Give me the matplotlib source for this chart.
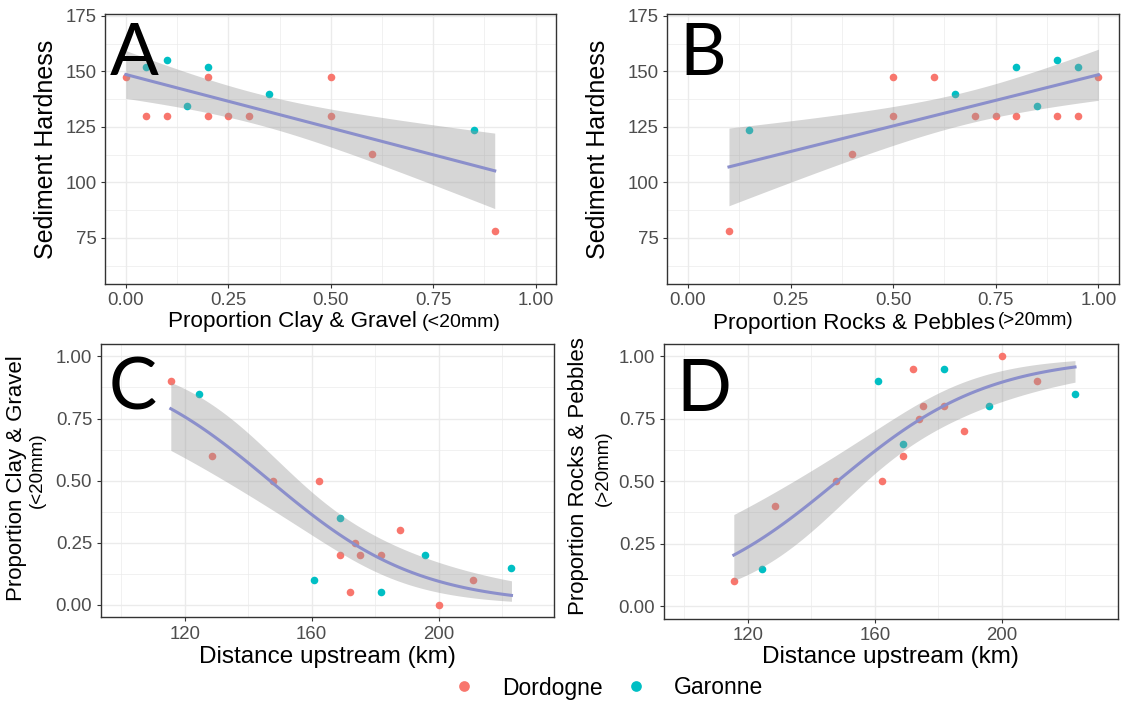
import numpy as np
import matplotlib
matplotlib.use("Agg")
import matplotlib.pyplot as plt
from matplotlib.ticker import MultipleLocator, FormatStrFormatter
from matplotlib.lines import Line2D

plt.rcParams['font.family'] = ['Liberation Sans', 'DejaVu Sans']

W, H = 1140, 701

# A: hardness vs proportion clay & gravel
clay_dor = [0.0, 0.05, 0.1, 0.2, 0.2, 0.25, 0.3, 0.5, 0.5, 0.6, 0.9]
hard_dor_a = [147.5, 130, 130, 147.5, 130, 130, 130, 147.5, 130, 113, 78]
clay_gar = [0.05, 0.1, 0.15, 0.2, 0.35, 0.85]
hard_gar_a = [152, 155, 134.5, 152, 140, 123.5]

# B: hardness vs proportion rocks & pebbles
rocks_dor = [0.1, 0.4, 0.5, 0.5, 0.6, 0.7, 0.75, 0.8, 0.9, 0.95, 1.0]
hard_dor_b = [78, 113, 147.5, 130, 147.5, 130, 130, 130, 130, 130, 147.5]
rocks_gar = [0.15, 0.65, 0.8, 0.85, 0.9, 0.95]
hard_gar_b = [123.5, 140, 152, 134.5, 155, 152]

# C / D: proportions vs distance upstream (km)
dist_dor = [115.6, 128.7, 147.7, 162.3, 168.8, 172.1, 173.8, 175.2, 181.8, 187.9, 200, 210.9]
clay_dor_c = [0.9, 0.6, 0.5, 0.5, 0.2, 0.05, 0.25, 0.2, 0.2, 0.3, 0.0, 0.1]
rocks_dor_d = [0.1, 0.4, 0.5, 0.5, 0.6, 0.95, 0.75, 0.8, 0.8, 0.7, 1.0, 0.9]
dist_gar = [124.6, 160.9, 168.8, 181.8, 195.8, 223.0]
clay_gar_c = [0.85, 0.1, 0.35, 0.05, 0.2, 0.15]
rocks_gar_d = [0.15, 0.9, 0.65, 0.95, 0.8, 0.85]

rivers = ["Dordogne", "Garonne"]
col_dor = "#F8766D"
col_gar = "#00BFC4"
col_line = "#8B8FCB"

T_LM = 2.131   # qt(0.975, 15)
Z_GLM = 1.96


def px(x, y):
    # pixel position -> figure fraction
    return x / W, 1 - y / H


def lm_fit(x, y, n=80):
    x = np.asarray(x, float)
    y = np.asarray(y, float)
    X = np.column_stack([np.ones_like(x), x])
    beta = np.linalg.lstsq(X, y, rcond=None)[0]
    resid = y - X @ beta
    s2 = resid @ resid / (len(x) - 2)
    cov = s2 * np.linalg.inv(X.T @ X)
    xs = np.linspace(x.min(), x.max(), n)
    Xs = np.column_stack([np.ones_like(xs), xs])
    fit = Xs @ beta
    se = np.sqrt(np.einsum('ij,jk,ik->i', Xs, cov, Xs))
    return xs, fit, fit - T_LM * se, fit + T_LM * se


def glm_fit(x, y, n=80):
    # logistic regression (quasibinomial) by IRLS
    x = np.asarray(x, float)
    y = np.asarray(y, float)
    X = np.column_stack([np.ones_like(x), x])
    beta = np.zeros(2)
    for _ in range(100):
        eta = X @ beta
        mu = 1 / (1 + np.exp(-eta))
        w = mu * (1 - mu)
        z = eta + (y - mu) / w
        beta = np.linalg.solve(X.T @ (w[:, None] * X), X.T @ (w * z))
    mu = 1 / (1 + np.exp(-(X @ beta)))
    w = mu * (1 - mu)
    phi = np.sum((y - mu) ** 2 / w) / (len(y) - 2)
    cov = phi * np.linalg.inv(X.T @ (w[:, None] * X))
    xs = np.linspace(x.min(), x.max(), n)
    Xs = np.column_stack([np.ones_like(xs), xs])
    eta = Xs @ beta
    se = np.sqrt(np.einsum('ij,jk,ik->i', Xs, cov, Xs))
    inv = lambda e: 1 / (1 + np.exp(-e))
    return xs, inv(eta), inv(eta - Z_GLM * se), inv(eta + Z_GLM * se)


def style(ax, xlim, ylim, xstep, ystep, xfmt, yfmt):
    ax.set_xlim(xlim)
    ax.set_ylim(ylim)
    ax.xaxis.set_major_locator(MultipleLocator(xstep))
    ax.xaxis.set_minor_locator(MultipleLocator(xstep / 2))
    ax.yaxis.set_major_locator(MultipleLocator(ystep))
    ax.yaxis.set_minor_locator(MultipleLocator(ystep / 2))
    ax.xaxis.set_major_formatter(FormatStrFormatter(xfmt))
    ax.yaxis.set_major_formatter(FormatStrFormatter(yfmt))
    ax.grid(which='major', color='#EBEBEB', lw=1.0)
    ax.grid(which='minor', color='#EBEBEB', lw=0.5)
    ax.set_axisbelow(True)
    ax.tick_params(which='minor', length=0)
    ax.tick_params(which='major', length=2.6, width=0.8, color='#333333',
                   labelcolor='#4D4D4D', labelsize=13.4, pad=3.5)
    for s in ax.spines.values():
        s.set_color('#333333')
        s.set_linewidth(1.0)


def panel(ax, xd, yd, xg, yg, fitter):
    ax.scatter(xd, yd, s=30, color=col_dor, lw=0, zorder=2)
    ax.scatter(xg, yg, s=30, color=col_gar, lw=0, zorder=2)
    xs, fit, lo, hi = fitter(list(xd) + list(xg), list(yd) + list(yg))
    ax.fill_between(xs, lo, hi, color='#999999', alpha=0.4, lw=0, zorder=3)
    ax.plot(xs, fit, color=col_line, lw=2.2, zorder=4)


fig = plt.figure(figsize=(W / 100, H / 100), dpi=100)

def add_axes(l, r, t, b):
    return fig.add_axes([l / W, 1 - b / H, (r - l) / W, (b - t) / H])

axA = add_axes(105.4, 556.2, 14, 284)
axB = add_axes(667.4, 1118.9, 14, 284)
axC = add_axes(100.7, 554.3, 344, 617.3)
axD = add_axes(663.6, 1117.9, 344, 618.5)

panel(axA, clay_dor, hard_dor_a, clay_gar, hard_gar_a, lm_fit)
panel(axB, rocks_dor, hard_dor_b, rocks_gar, hard_gar_b, lm_fit)
panel(axC, dist_dor, clay_dor_c, dist_gar, clay_gar_c, glm_fit)
panel(axD, dist_dor, rocks_dor_d, dist_gar, rocks_gar_d, glm_fit)

for ax in (axA, axB):
    style(ax, (-0.05, 1.05), (54.3, 175.8), 0.25, 25, '%.2f', '%d')
for ax in (axC, axD):
    style(ax, (93.5, 236.5), (-0.05, 1.05), 40, 0.25, '%d', '%.2f')

# axis titles
fig.text(*px(416.7, 327), "Proportion Clay & Gravel", fontsize=16.2, ha='right', va='baseline')
fig.text(*px(422, 327), "(<20mm)", fontsize=14, ha='left', va='baseline')
fig.text(*px(995, 329), "Proportion Rocks & Pebbles", fontsize=16.2, ha='right', va='baseline')
fig.text(*px(998, 325), "(>20mm)", fontsize=13.5, ha='left', va='baseline')
fig.text(*px(327.5, 663), "Distance upstream (km)", fontsize=17.5, ha='center', va='baseline')
fig.text(*px(890.8, 663), "Distance upstream (km)", fontsize=17.5, ha='center', va='baseline')

fig.text(*px(46, 149), "Sediment Hardness", fontsize=18, rotation=90, ha='center', va='center')
fig.text(*px(598, 149), "Sediment Hardness", fontsize=18, rotation=90, ha='center', va='center')
fig.text(*px(16.5, 478), "Proportion Clay & Gravel", fontsize=16, rotation=90, ha='center', va='center')
fig.text(*px(37, 470), "(<20mm)", fontsize=13.5, rotation=90, ha='center', va='center')
fig.text(*px(578.5, 476), "Proportion Rocks & Pebbles", fontsize=16, rotation=90, ha='center', va='center')
fig.text(*px(603, 468), "(>20mm)", fontsize=13.5, rotation=90, ha='center', va='center')

# panel letters
for letter, (lx, ly) in zip("ABCD", [(110, 75), (679, 75), (109, 410), (676, 411)]):
    fig.text(*px(lx, ly), letter, fontsize=52, family='Lato', ha='left', va='baseline', color='black')

# legend
handles = [Line2D([], [], marker='o', ls='', color=c, markersize=7.7, markeredgewidth=0)
           for c in (col_dor, col_gar)]
fig.legend(handles, rivers, loc='center left', bbox_to_anchor=px(453, 688), ncol=2,
           frameon=False, fontsize=16.5, handlelength=1.0, handletextpad=1.14,
           columnspacing=0.97, borderpad=0, borderaxespad=0)

fig.savefig("out.png", dpi=100)
